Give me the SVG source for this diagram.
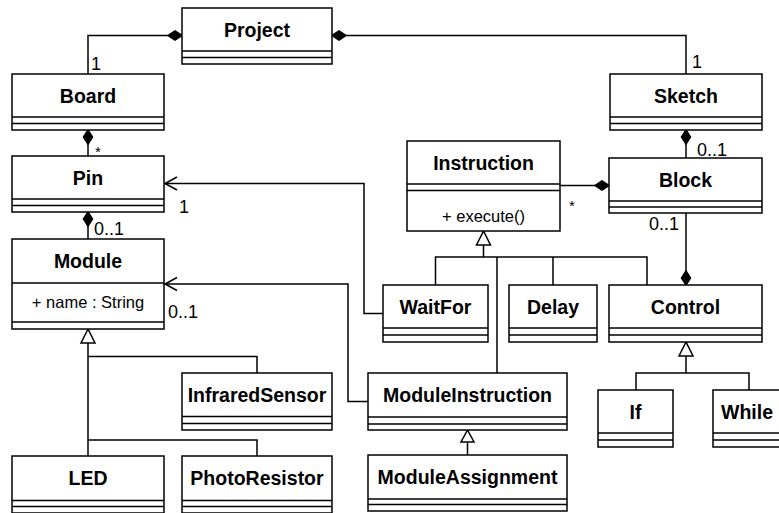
<svg xmlns="http://www.w3.org/2000/svg" width="779" height="513" viewBox="0 0 779 513">
<style>
.box{fill:#fff;stroke:#000;stroke-width:1.5}
.sep{stroke:#000;stroke-width:1.5}
.t{font-family:"Liberation Sans",Arial,sans-serif;font-weight:bold;font-size:19.5px;text-anchor:middle;fill:#000}
.a{font-family:"Liberation Sans",Arial,sans-serif;font-size:16.5px;text-anchor:middle;fill:#000}
.l{font-family:"Liberation Sans",Arial,sans-serif;font-size:18px;fill:#000}
.s{font-family:"Liberation Sans",Arial,sans-serif;font-size:15px;fill:#000}
.c{fill:none;stroke:#000;stroke-width:1.5}
.d{fill:#000;stroke:#000;stroke-width:1.5;stroke-linejoin:miter}
.g{fill:#fff;stroke:#000;stroke-width:1.5}
</style>
<rect width="779" height="513" fill="#fff"/>
<g id="connectors">
  <!-- Project - Board -->
  <path class="c" d="M88,74 V35.5 H168"/>
  <path class="d" d="M182,35.5 L175,31 L168,35.5 L175,40 Z"/>
  <!-- Project - Sketch -->
  <path class="c" d="M346,35.5 H686 V74"/>
  <path class="d" d="M332,35.5 L339,31 L346,35.5 L339,40 Z"/>
  <!-- Board - Pin -->
  <path class="c" d="M88,144 V156"/>
  <path class="d" d="M88,130 L83.5,137 L88,144 L92.5,137 Z"/>
  <!-- Pin - Module -->
  <path class="c" d="M88,226 V239"/>
  <path class="d" d="M88,212 L83.5,219 L88,226 L92.5,219 Z"/>
  <!-- WaitFor -> Pin -->
  <path class="c" d="M383,313.5 H364 V183.5 H165"/>
  <path class="c" d="M177,177 L165,183.5 L177,190"/>
  <!-- ModuleInstruction -> Module -->
  <path class="c" d="M368,401.5 H348 V284 H165"/>
  <path class="c" d="M177,277.5 L165,284 L177,290.5"/>
  <!-- Instruction - Block -->
  <path class="c" d="M560,185.5 H595"/>
  <path class="d" d="M609,185.5 L602,181 L595,185.5 L602,190 Z"/>
  <!-- Sketch - Block -->
  <path class="c" d="M686,144 V158"/>
  <path class="d" d="M686,130 L681.5,137 L686,144 L690.5,137 Z"/>
  <!-- Block - Control -->
  <path class="c" d="M686,213 V271"/>
  <path class="d" d="M686,285 L681.5,278 L686,271 L690.5,278 Z"/>
  <!-- Generalization to Instruction -->
  <path class="c" d="M483.5,245 V257 M435.5,285 V257 H647 V285 M497,257 V373 M553,257 V285"/>
  <path class="g" d="M483.5,231 L476.5,245 L490.5,245 Z"/>
  <!-- Generalization to Module -->
  <path class="c" d="M88,343 V456 M88,356.5 H257 V373 M88,440 H257 V456"/>
  <path class="g" d="M88,329 L81,343 L95,343 Z"/>
  <!-- ModuleAssignment -> ModuleInstruction -->
  <path class="c" d="M467.5,442 V455"/>
  <path class="g" d="M467.5,430 L461,442 L474,442 Z"/>
  <!-- Generalization to Control -->
  <path class="c" d="M686,356 V373 M636,390 V373 H749 V390"/>
  <path class="g" d="M686,342 L679,356 L693,356 Z"/>
  <!-- labels -->
  <text class="l" x="91" y="70">1</text>
  <text class="l" x="692" y="68">1</text>
  <text class="s" x="95" y="157">*</text>
  <text class="l" x="94" y="235">0..1</text>
  <text class="l" x="179" y="213">1</text>
  <text class="l" x="168" y="318">0..1</text>
  <text class="l" x="697" y="156">0..1</text>
  <text class="s" x="569" y="211">*</text>
  <text class="l" x="649" y="230">0..1</text>
</g>
<g id="Project">
  <rect class="box" x="182" y="8" width="150" height="56"/>
  <path class="sep" d="M182,51 H332 M182,57.5 H332"/>
  <text class="t" x="257" y="37">Project</text>
</g>
<g id="Board">
  <rect class="box" x="12" y="74" width="152" height="56"/>
  <path class="sep" d="M12,117 H164 M12,123.5 H164"/>
  <text class="t" x="88" y="103">Board</text>
</g>
<g id="Sketch">
  <rect class="box" x="610" y="74" width="152" height="56"/>
  <path class="sep" d="M610,117 H762 M610,123.5 H762"/>
  <text class="t" x="686" y="103">Sketch</text>
</g>
<g id="Pin">
  <rect class="box" x="12" y="156" width="152" height="56"/>
  <path class="sep" d="M12,199 H164 M12,205.5 H164"/>
  <text class="t" x="88" y="185">Pin</text>
</g>
<g id="Module">
  <rect class="box" x="12" y="239" width="152" height="90"/>
  <path class="sep" d="M12,283 H164 M12,322 H164"/>
  <text class="t" x="88" y="268">Module</text>
  <text class="a" x="88" y="307.5">+ name : String</text>
</g>
<g id="Instruction">
  <rect class="box" x="407" y="141" width="153" height="90"/>
  <path class="sep" d="M407,184 H560 M407,190.5 H560"/>
  <text class="t" x="483.5" y="170">Instruction</text>
  <text class="a" x="483.5" y="222">+ execute()</text>
</g>
<g id="Block">
  <rect class="box" x="609" y="158" width="153" height="55"/>
  <path class="sep" d="M609,201 H762 M609,207 H762"/>
  <text class="t" x="685.5" y="187">Block</text>
</g>
<g id="WaitFor">
  <rect class="box" x="383" y="285" width="105" height="57"/>
  <path class="sep" d="M383,328 H488 M383,335 H488"/>
  <text class="t" x="435.5" y="314">WaitFor</text>
</g>
<g id="Delay">
  <rect class="box" x="509" y="285" width="88" height="57"/>
  <path class="sep" d="M509,328 H597 M509,335 H597"/>
  <text class="t" x="553" y="314">Delay</text>
</g>
<g id="Control">
  <rect class="box" x="609" y="285" width="153" height="57"/>
  <path class="sep" d="M609,328 H762 M609,335 H762"/>
  <text class="t" x="685.5" y="314">Control</text>
</g>
<g id="InfraredSensor">
  <rect class="box" x="182" y="373" width="150" height="57"/>
  <path class="sep" d="M182,416.5 H332 M182,423.5 H332"/>
  <text class="t" x="257" y="402">InfraredSensor</text>
</g>
<g id="ModuleInstruction">
  <rect class="box" x="368" y="373" width="199" height="57"/>
  <path class="sep" d="M368,417 H567 M368,424 H567"/>
  <text class="t" x="467.5" y="402">ModuleInstruction</text>
</g>
<g id="If">
  <rect class="box" x="598" y="390" width="75" height="57"/>
  <path class="sep" d="M598,433 H673 M598,440 H673"/>
  <text class="t" x="635.5" y="419">If</text>
</g>
<g id="While">
  <rect class="box" x="713" y="390" width="72" height="57"/>
  <path class="sep" d="M713,433 H785 M713,440 H785"/>
  <text class="t" x="747" y="419">While</text>
</g>
<g id="LED">
  <rect class="box" x="12" y="456" width="152" height="57"/>
  <path class="sep" d="M12,500.5 H164 M12,506.5 H164"/>
  <text class="t" x="88" y="485">LED</text>
</g>
<g id="PhotoResistor">
  <rect class="box" x="182" y="456" width="150" height="57"/>
  <path class="sep" d="M182,500.5 H332 M182,506.5 H332"/>
  <text class="t" x="257" y="485">PhotoResistor</text>
</g>
<g id="ModuleAssignment">
  <rect class="box" x="368" y="455" width="199" height="56"/>
  <path class="sep" d="M368,499 H567 M368,504.5 H567"/>
  <text class="t" x="467.5" y="484">ModuleAssignment</text>
</g>
</svg>
